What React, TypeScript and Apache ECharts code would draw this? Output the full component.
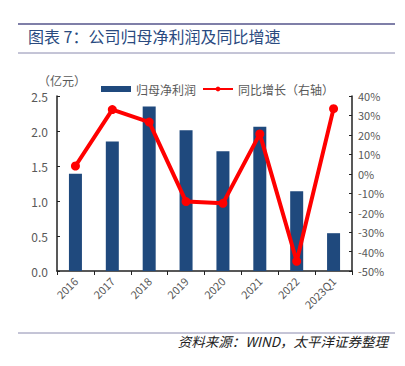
import React, { useEffect, useRef } from "react";
import * as echarts from "echarts";

const categories = ["2016", "2017", "2018", "2019", "2020", "2021", "2022", "2023Q1"];
const profit = [1.39, 1.85, 2.35, 2.01, 1.71, 2.06, 1.14, 0.54];
const growth = [4.0, 33.0, 26.6, -14.3, -15.2, 20.5, -45.0, 33.5];
const leftTicks = { min: 0, max: 2.5, interval: 0.5 };
const rightTicks = { min: -50, max: 40, interval: 10 };

export default function App() {
  const ref = useRef<HTMLDivElement>(null);
  useEffect(() => {
    if (!ref.current) return;
    const chart = echarts.init(ref.current, null, { renderer: "svg" });
    const font = "'Noto Sans CJK SC', 'Noto Sans', sans-serif";
    chart.setOption({
      animation: false,
      textStyle: { fontFamily: font },
      grid: { left: 57, right: 53, top: 96, bottom: 95 },
      legend: {
        left: 96,
        top: 78,
        itemGap: 6,
        textStyle: { color: "#595959", fontSize: 12, fontFamily: font },
        data: [
          { name: "归母净利润", icon: "rect", itemStyle: { color: "#1F497D" } },
          { name: "同比增长（右轴）" },
        ],
        itemWidth: 30,
        itemHeight: 6,
      },
      graphic: [
        { type: "line", shape: { x1: 18, y1: 24, x2: 395, y2: 24 }, style: { stroke: "#7F7FA8", lineWidth: 2 } },
        { type: "line", shape: { x1: 18, y1: 53, x2: 395, y2: 53 }, style: { stroke: "#8A8AAE", lineWidth: 1 } },
        { type: "line", shape: { x1: 18, y1: 333, x2: 395, y2: 333 }, style: { stroke: "#8A8AAE", lineWidth: 1 } },
        {
          type: "text",
          left: 28,
          top: 28,
          style: { text: "图表 7：公司归母净利润及同比增速", fill: "#2A4A7F", fontSize: 16, fontFamily: font },
        },
        {
          type: "text",
          left: 38,
          top: 74,
          style: { text: "（亿元）", fill: "#595959", fontSize: 12, fontFamily: font },
        },
        {
          type: "text",
          right: 17,
          top: 334,
          style: {
            text: "资料来源：WIND，太平洋证券整理",
            fill: "#222222",
            fontSize: 13.5,
            fontStyle: "italic",
            fontFamily: font,
          },
        },
      ],
      xAxis: {
        type: "category",
        data: categories,
        axisLine: { lineStyle: { color: "#222222", width: 1.5 } },
        axisTick: { show: true, length: 4, lineStyle: { color: "#222222" } },
        axisLabel: { rotate: 45, color: "#595959", fontSize: 11, margin: 8 },
      },
      yAxis: [
        {
          type: "value",
          ...leftTicks,
          axisLine: { show: true, lineStyle: { color: "#222222", width: 1.5 } },
          axisTick: { show: true, inside: true, length: 3, lineStyle: { color: "#222222" } },
          splitLine: { show: false },
          axisLabel: { color: "#595959", fontSize: 12, formatter: (v: number) => v.toFixed(1), margin: 9 },
        },
        {
          type: "value",
          ...rightTicks,
          position: "right",
          axisLine: { show: true, lineStyle: { color: "#222222", width: 1.5 } },
          axisTick: { show: true, inside: true, length: 3, lineStyle: { color: "#222222" } },
          splitLine: { show: false },
          axisLabel: { color: "#595959", fontSize: 11, formatter: (v: number) => v + "%", margin: 6 },
        },
      ],
      series: [
        {
          name: "归母净利润",
          type: "bar",
          data: profit,
          barWidth: 13,
          itemStyle: { color: "#1F497D" },
        },
        {
          name: "同比增长（右轴）",
          type: "line",
          yAxisIndex: 1,
          data: growth,
          symbol: "circle",
          symbolSize: 9,
          lineStyle: { color: "#FF0000", width: 4 },
          itemStyle: { color: "#FF0000" },
        },
      ],
    });
    return () => chart.dispose();
  }, []);
  return <div ref={ref} style={{ width: 405, height: 366, margin: -8 }} />;
}
